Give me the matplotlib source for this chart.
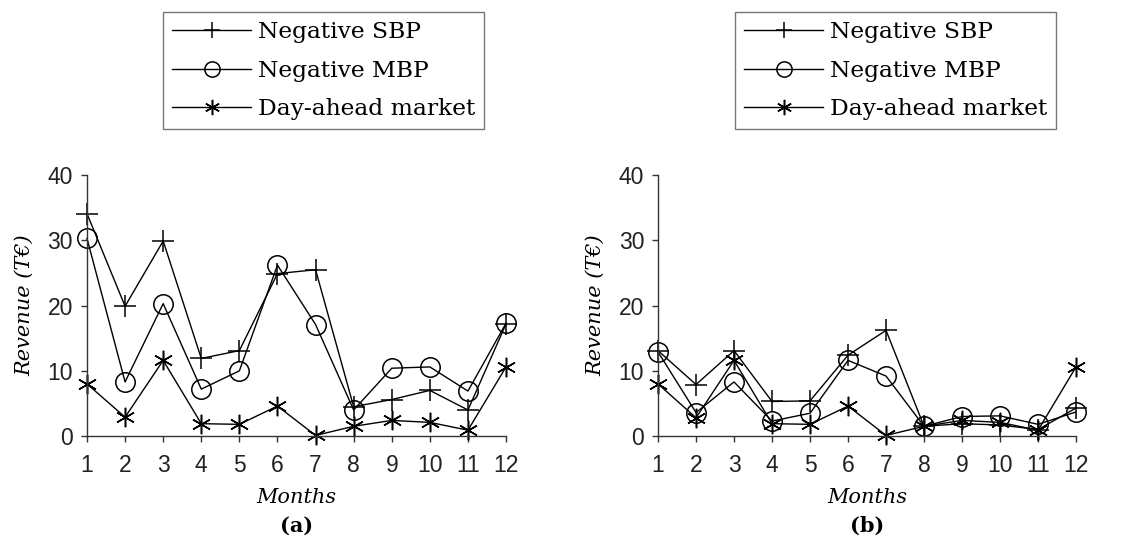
import matplotlib
matplotlib.use("Agg")
import matplotlib.pyplot as plt

months = list(range(1, 13))

# (a) revenue in thousand euro
sbp_a = [34.1, 19.9, 29.9, 11.9, 13.1, 24.9, 25.5, 4.5, 5.6, 7.0, 4.0, 17.2]
mbp_a = [30.3, 8.3, 20.3, 7.2, 10.0, 26.2, 17.1, 4.0, 10.4, 10.6, 6.9, 17.3]
dam_a = [8.0, 2.9, 11.6, 1.9, 1.8, 4.6, 0.1, 1.5, 2.4, 2.1, 0.9, 10.6]

# (b) revenue in thousand euro
sbp_b = [13.1, 7.9, 13.1, 5.3, 5.4, 12.4, 16.2, 1.5, 1.9, 1.7, 1.0, 4.3]
mbp_b = [12.9, 3.6, 8.3, 2.3, 3.5, 11.6, 9.2, 1.5, 3.0, 3.1, 1.8, 3.7]
dam_b = [8.0, 2.8, 11.6, 1.9, 1.8, 4.6, 0.1, 1.5, 2.4, 2.1, 0.9, 10.6]

series_names = ["Negative SBP", "Negative MBP", "Day-ahead market"]
yticks = [0, 10, 20, 30, 40]

serif = "DejaVu Serif"
sans = "Liberation Sans"
asterisk = (6, 2, 0)

W, H = 1140, 552
fig = plt.figure(figsize=(W / 100, H / 100), dpi=100)


def draw_panel(rect, legend_xy, sbp, mbp, dam, tag):
    ax = fig.add_axes(rect)
    l1, = ax.plot(months, sbp, color="black", lw=1.0, marker="+", ms=16, mew=1.1,
                  clip_on=False)
    l2, = ax.plot(months, mbp, color="black", lw=1.0, marker="o", ms=14,
                  mfc="none", mew=1.1, clip_on=False)
    l3, = ax.plot(months, dam, color="black", lw=1.0, marker=asterisk, ms=14,
                  mew=1.1, clip_on=False)
    ax.set_xlim(1, 12)
    ax.set_ylim(0, 40)
    ax.set_xticks(months)
    ax.set_yticks(yticks)
    for s in ("top", "right"):
        ax.spines[s].set_visible(False)
    for s in ("left", "bottom"):
        ax.spines[s].set_linewidth(1.0)
        ax.spines[s].set_color("#333333")
    ax.tick_params(direction="out", length=4, width=1.0, color="#333333",
                   labelsize=16.5)
    ax.tick_params(axis="x", pad=9)
    ax.tick_params(axis="y", pad=6)
    for t in ax.get_xticklabels() + ax.get_yticklabels():
        t.set_fontfamily(sans)
        t.set_color("#222222")
    ax.set_xlabel("Months", fontfamily=serif, fontstyle="italic", fontsize=15,
                  labelpad=8)
    ax.set_ylabel("Revenue (T€)", fontfamily=serif, fontstyle="italic", fontsize=15,
                  labelpad=10)
    ax.text(0.5, -0.345, tag, transform=ax.transAxes, ha="center", va="center",
            fontfamily=serif, fontweight="bold", fontsize=15)
    leg = fig.legend([l1, l2, l3], series_names, loc="upper left",
                     bbox_to_anchor=(legend_xy[0] / W, 1 - legend_xy[1] / H),
                     frameon=True, fancybox=False, edgecolor="#555555",
                     handlelength=3.4, handletextpad=0.3, borderpad=0.38,
                     labelspacing=0.72, borderaxespad=0,
                     prop={"family": serif, "size": 16.8})
    leg.get_frame().set_linewidth(1.0)
    for h in leg.legend_handles:
        h.set_markersize(11)
    return ax


draw_panel([0.0763, 0.21, 0.3676, 0.4728], (163, 12), sbp_a, mbp_a, dam_a, "(a)")
draw_panel([0.5772, 0.21, 0.3667, 0.4728], (735, 12), sbp_b, mbp_b, dam_b, "(b)")

fig.savefig("out.png", dpi=100)
